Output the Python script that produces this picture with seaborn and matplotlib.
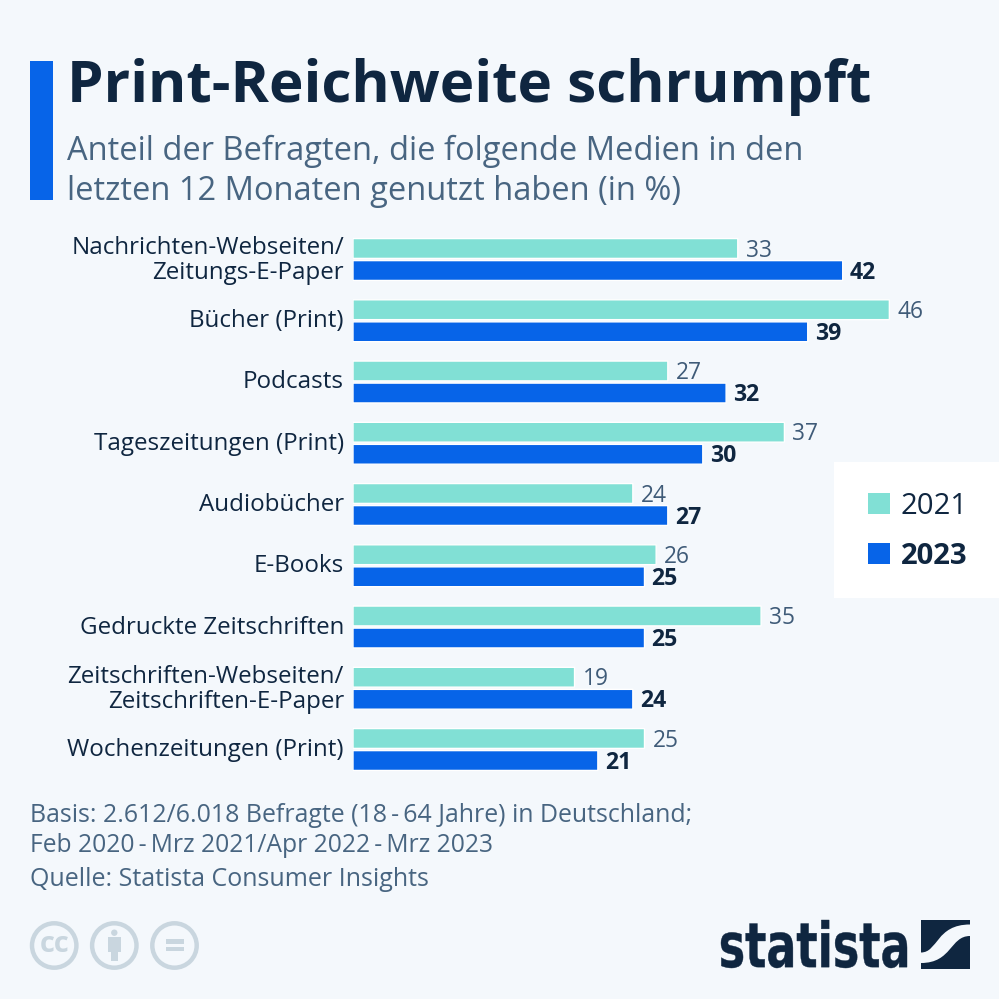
import matplotlib
matplotlib.use("Agg")
import matplotlib.pyplot as plt
import pandas as pd
import seaborn as sns
from matplotlib.patches import Rectangle, Circle, PathPatch
from matplotlib.path import Path
from matplotlib.textpath import TextPath
from matplotlib.font_manager import FontProperties
from matplotlib.transforms import Affine2D

categories = ["Nachrichten-Webseiten/\nZeitungs-E-Paper", "Bücher (Print)", "Podcasts",
              "Tageszeitungen (Print)", "Audiobücher", "E-Books", "Gedruckte Zeitschriften",
              "Zeitschriften-Webseiten/\nZeitschriften-E-Paper", "Wochenzeitungen (Print)"]
values_2021 = [33, 46, 27, 37, 24, 26, 35, 19, 25]
values_2023 = [42, 39, 32, 30, 27, 25, 25, 24, 21]
years = ["2021", "2023"]

BG = "#f4f8fc"
NAVY = "#0f2640"
SLATE = "#486581"
BLUE = "#0764e8"
TEAL = "#81e0d5"
GREY = "#c9d6df"
FONT = "Open Sans"

sns.set_theme(style="white")
plt.rcParams["font.family"] = [FONT, "DejaVu Sans"]

W = H = 999
fig = plt.figure(figsize=(W / 100, H / 100), dpi=100, facecolor=BG)

page = fig.add_axes([0, 0, 1, 1], zorder=0)
page.set_xlim(0, W)
page.set_ylim(H, 0)
page.axis("off")

page.add_patch(Rectangle((30, 61), 23, 139, color=BLUE, lw=0))
page.text(67, 87, "Print-Reichweite schrumpft", fontsize=42, fontweight="bold", color=NAVY, va="center")
page.text(67, 151, "Anteil der Befragten, die folgende Medien in den", fontsize=23.5, color=SLATE, va="center")
page.text(67, 192, "letzten 12 Monaten genutzt haben (in %)", fontsize=23.5, color=SLATE, va="center")

data = pd.DataFrame({
    "Kategorie": categories * 2,
    "Jahr": [years[0]] * len(categories) + [years[1]] * len(categories),
    "Wert": values_2021 + values_2023,
})
left = 353
px_per_unit = 11.66
y0, pitch = 259.5, 61.25
top = y0 - pitch / 2
bottom = top + pitch * len(categories)
ax = fig.add_axes([left / W, 1 - bottom / H, (W - left) / W, (bottom - top) / H], zorder=1)
ax.patch.set_alpha(0)
sns.barplot(data=data, y="Kategorie", x="Wert", hue="Jahr", palette=[TEAL, BLUE], order=categories,
            hue_order=years, width=0.72, gap=0.1, dodge=True, saturation=1, legend=False, ax=ax)
for bar in ax.patches:
    bar.set_snap(False)
ax.set_xlim(0, (W - left) / px_per_unit)
ax.set_ylim(len(categories) - 0.5, -0.5)
sns.despine(ax=ax, left=True, bottom=True)
ax.set_xlabel("")
ax.set_ylabel("")
ax.set_xticks([])
ax.tick_params(axis="y", length=0, pad=6.5)
for lab in ax.get_yticklabels():
    lab.set_fontsize(17.4)
    lab.set_color(NAVY)
    lab.set_linespacing(1.08)
    lab.set_ha("right")
    lab.set_multialignment("right")
    lab.set_transform(lab.get_transform() + Affine2D().translate(0, 2.5))

for ann in ax.bar_label(ax.containers[0], fmt="%d", padding=5.8, fontsize=16.4, color="#3f5b78"):
    ann.xyann = (ann.xyann[0], ann.xyann[1] - 1.5)
for ann in ax.bar_label(ax.containers[1], fmt="%d", padding=5, fontsize=16.6, color=NAVY, fontweight="bold"):
    ann.xyann = (ann.xyann[0], ann.xyann[1] - 1.5)

page.add_patch(Rectangle((834, 462), 165, 136, color="white", lw=0))
page.add_patch(Rectangle((868, 493), 22, 21, color=TEAL, lw=0))
page.add_patch(Rectangle((868, 543), 22, 21, color=BLUE, lw=0))
page.text(901, 506, years[0], fontsize=21.1, color=NAVY, va="center")
page.text(901, 556, years[1], fontsize=21.1, color=NAVY, fontweight="bold", va="center")

page.text(30, 815, "Basis: 2.612/6.018 Befragte (18\u2009-\u200964 Jahre) in Deutschland;", fontsize=17.9, color=SLATE, va="center")
page.text(30, 845, "Feb 2020\u2009-\u2009Mrz 2021/Apr 2022\u2009-\u2009Mrz 2023", fontsize=17.7, color=SLATE, va="center")
page.text(30, 880, "Quelle: Statista Consumer Insights", fontsize=17.97, color=SLATE, va="center")

for cx in (54.2, 114.3, 174.5):
    page.add_patch(Circle((cx, 945.5), 22.2, fill=False, ec=GREY, lw=3.2))
page.text(54.2, 944.5, "cc", fontsize=21, fontweight="bold", color=GREY, ha="center", va="center")
page.add_patch(Circle((114.3, 932.7), 3.2, color=GREY, lw=0))
page.add_patch(Rectangle((107.7, 936.7), 13.3, 15, color=GREY, lw=0))
page.add_patch(Rectangle((111, 951), 6.7, 9.7, color=GREY, lw=0))
page.add_patch(Rectangle((166, 939.3), 18, 4.7, color=GREY, lw=0))
page.add_patch(Rectangle((166, 946.7), 18, 4.7, color=GREY, lw=0))

tp = TextPath((0, 0), "statista", size=100, prop=FontProperties(family="Liberation Sans Narrow", weight="bold"))
bb = tp.get_extents()
tf = Affine2D().translate(-bb.x0, -bb.y0).scale(186 / bb.width, -48 / bb.height).translate(721, 968)
page.add_patch(PathPatch(tf.transform_path(tp), fc=NAVY, ec=NAVY, lw=0.3))

page.add_patch(Rectangle((921, 920), 49, 48.5, color=NAVY, lw=0))
swoosh = Path(
    [(921, 952.5), (938, 952.5), (936, 924.5), (970, 924.5),
     (970, 936), (950, 936), (952, 963), (921, 963), (921, 952.5)],
    [Path.MOVETO, Path.CURVE4, Path.CURVE4, Path.CURVE4,
     Path.LINETO, Path.CURVE4, Path.CURVE4, Path.CURVE4, Path.CLOSEPOLY])
page.add_patch(PathPatch(swoosh, fc=BG, ec="none"))

fig.savefig("out.png", dpi=100, facecolor=BG)
